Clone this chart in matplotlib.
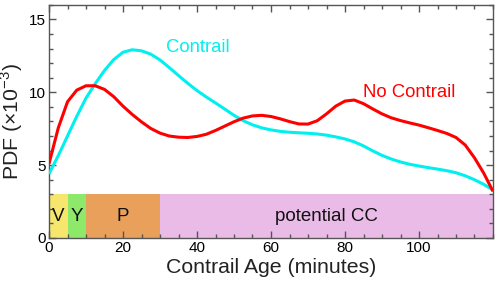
import matplotlib
matplotlib.use("Agg")
import matplotlib.pyplot as plt
import numpy as np
from matplotlib.ticker import MultipleLocator

plt.rcParams['font.family'] = ['Liberation Sans', 'DejaVu Sans']

age = np.arange(0, 120.01, 2.5)
contrail = [4.4, 5.65, 7.0, 8.35, 9.6, 10.6, 11.5, 12.25, 12.75, 12.92, 12.85, 12.62, 12.22,
            11.7, 11.15, 10.62, 10.12, 9.68, 9.27, 8.85, 8.42, 8.05, 7.77, 7.56, 7.42, 7.32,
            7.26, 7.22, 7.19, 7.14, 7.06, 6.94, 6.8, 6.6, 6.32, 5.98, 5.67, 5.42, 5.22, 5.06,
            4.94, 4.83, 4.73, 4.62, 4.48, 4.27, 4.0, 3.68, 3.3]
no_contrail = [5.1, 7.55, 9.35, 10.15, 10.45, 10.45, 10.2, 9.7, 9.05, 8.48, 7.97, 7.52, 7.2,
               7.0, 6.92, 6.9, 6.97, 7.12, 7.38, 7.68, 7.98, 8.23, 8.38, 8.42, 8.34, 8.18,
               7.99, 7.83, 7.82, 8.05, 8.52, 9.05, 9.4, 9.47, 9.22, 8.86, 8.52, 8.25, 8.06,
               7.9, 7.75, 7.57, 7.38, 7.18, 6.9, 6.38, 5.5, 4.45, 3.2]

band_labels = ['V', 'Y', 'P', 'potential CC']
band_starts = [0, 5, 10, 30]
band_ends = [5, 10, 30, 120]
band_colors = ['#F6E66E', '#8EE86A', '#E9A05A', '#EBBBE8']
band_height = 3.0

fig = plt.figure(figsize=(5.0, 2.89), dpi=100)
ax = fig.add_axes([0.098, 0.1765, 0.888, 0.8065])

for lab, s, e, c in zip(band_labels, band_starts, band_ends, band_colors):
    ax.bar(s, band_height, width=e - s, align='edge', color=c, edgecolor='none', zorder=1)
    ax.text((s + e) / 2, band_height / 2, lab, ha='center', va='center', fontsize=13.5,
            color='#111111', zorder=2)

ax.plot(age, contrail, color='#00F0F0', lw=2.2, zorder=3, solid_capstyle='butt')
ax.plot(age, no_contrail, color='#FF0000', lw=2.2, zorder=4, solid_capstyle='butt')

ax.text(31.6, 13.1, 'Contrail', color='#00F0F0', fontsize=13.3, va='center', ha='left')
ax.text(84.9, 10.0, 'No Contrail', color='#FF0000', fontsize=13.3, va='center', ha='left')

ax.set_xlim(0, 120)
ax.set_ylim(0, 16)
ax.set_xticks([0, 20, 40, 60, 80, 100])
ax.set_yticks([0, 5, 10, 15])
ax.xaxis.set_minor_locator(MultipleLocator(5))
ax.yaxis.set_minor_locator(MultipleLocator(1))
ax.tick_params(which='both', direction='in', top=True, right=True, color='#555555',
               labelsize=11, pad=2)
ax.tick_params(which='major', length=5, width=1)
ax.tick_params(which='minor', length=3, width=1)
for sp in ax.spines.values():
    sp.set_color('#555555')
    sp.set_linewidth(1)

ax.set_xlabel('Contrail Age (minutes)', fontsize=15.3, color='#222222', labelpad=2)
ax.set_ylabel('PDF (×10$^{\\mathregular{-3}}$)', fontsize=15.3, color='#222222', labelpad=3)

fig.savefig('out.png', dpi=100)
